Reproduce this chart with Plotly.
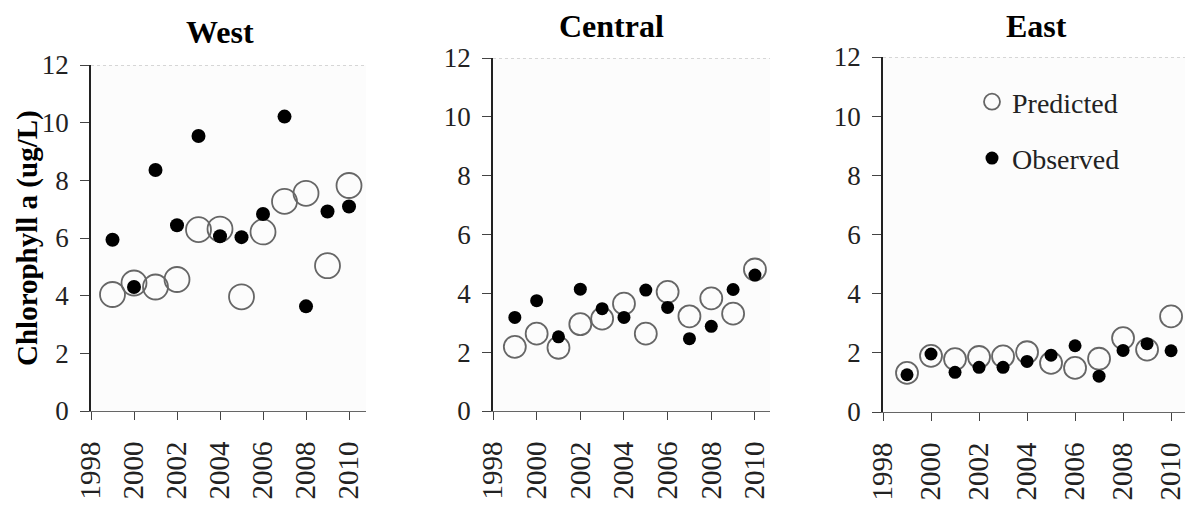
import plotly.graph_objects as go

years = list(range(1999, 2011))
regions = ["West", "Central", "East"]

west_pred = [4.04, 4.44, 4.30, 4.56, 6.29, 6.31, 3.96, 6.21, 7.27, 7.55, 5.04, 7.82]
west_obs = [5.94, 4.30, 8.36, 6.44, 9.54, 6.06, 6.03, 6.83, 10.21, 3.63, 6.92, 7.09]
central_pred = [2.18, 2.63, 2.15, 2.95, 3.14, 3.65, 2.63, 4.05, 3.22, 3.83, 3.31, 4.81]
central_obs = [3.18, 3.75, 2.52, 4.14, 3.48, 3.18, 4.11, 3.52, 2.46, 2.88, 4.13, 4.62]
east_pred = [1.32, 1.90, 1.79, 1.86, 1.88, 2.02, 1.66, 1.49, 1.80, 2.50, 2.11, 3.23]
east_obs = [1.26, 1.96, 1.34, 1.51, 1.51, 1.71, 1.92, 2.24, 1.21, 2.08, 2.31, 2.07]

x_ticks = [1998, 2000, 2002, 2004, 2006, 2008, 2010]
y_ticks = [0, 2, 4, 6, 8, 10, 12]

PAGE_W, PAGE_H = 1194, 506
OFF = 8  # default body margin of the html page
FW, FH = PAGE_W - OFF, PAGE_H - OFF
FONT = "Liberation Serif"


def px(xp):
    return (xp - OFF) / FW


def py(yp):
    return (PAGE_H - yp) / FH


# pixel geometry (page coords) of each panel: (left, right, top(y=12), bottom(y=0), x_end)
panels = [
    (91, 366, 65, 411, 2010.79),
    (493, 770, 58, 411, 2010.69),
    (883, 1185, 57, 412, 2010.58),
]
pred_sizes = [25, 22, 22]
obs_sizes = [14, 13, 13]
title_pos = [(220, 32), (612, 26), (1036, 26)]

data_pred = [west_pred, central_pred, east_pred]
data_obs = [west_obs, central_obs, east_obs]

fig = go.Figure()
shapes = []
annotations = []

for i, (l, r, t, b, xend) in enumerate(panels):
    xa = "x" if i == 0 else f"x{i+1}"
    ya = "y" if i == 0 else f"y{i+1}"
    show = (i == 2)
    fig.add_trace(go.Scatter(
        x=years, y=data_pred[i], mode="markers", name="Predicted",
        xaxis=xa, yaxis=ya, showlegend=show, legendgroup="pred",
        marker=dict(size=pred_sizes[i], symbol="circle-open", color="#666666",
                    line=dict(width=1.8, color="#666666")),
    ))
    fig.add_trace(go.Scatter(
        x=years, y=data_obs[i], mode="markers", name="Observed",
        xaxis=xa, yaxis=ya, showlegend=show, legendgroup="obs",
        marker=dict(size=obs_sizes[i], symbol="circle", color="#000000"),
    ))
    xkey = "xaxis" if i == 0 else f"xaxis{i+1}"
    ykey = "yaxis" if i == 0 else f"yaxis{i+1}"
    fig.update_layout(**{
        xkey: dict(
            domain=[px(l), px(r)], range=[1998, xend], anchor=ya, automargin=False,
            tickvals=x_ticks, ticktext=[str(v) for v in x_ticks], tickangle=-90,
            ticks="outside", ticklen=8, tickcolor="#444", tickwidth=1.2,
            showline=True, linecolor="#666", linewidth=1,
            showgrid=False, zeroline=False,
            tickfont=dict(family=FONT, size=29, color="#222"),
            ticklabelstandoff=10,
        ),
        ykey: dict(
            domain=[py(b), py(t)], range=[0, 12], anchor=xa, automargin=False,
            tickvals=y_ticks, ticks="outside", ticklen=9, tickcolor="#444", tickwidth=1.2,
            showline=True, linecolor="#222", linewidth=1.6,
            showgrid=False, zeroline=False,
            tickfont=dict(family=FONT, size=27, color="#222"),
            ticklabelstandoff=6,
        ),
    })
    shapes.append(dict(type="line", xref=f"{xa} domain", yref=ya, x0=0, x1=1, y0=12, y1=12,
                       line=dict(color="#b0b0b0", width=1, dash="dot")))
    tx, ty = title_pos[i]
    annotations.append(dict(text=f"<b>{regions[i]}</b>", x=px(tx), y=py(ty),
                            xref="paper", yref="paper", showarrow=False,
                            xanchor="center", yanchor="middle",
                            font=dict(family=FONT, size=32, color="#000")))

annotations.append(dict(text="<b>Chlorophyll a (ug/L)</b>", x=px(28), y=py(238),
                        xref="paper", yref="paper", showarrow=False, textangle=-90,
                        xanchor="center", yanchor="middle",
                        font=dict(family=FONT, size=29, color="#000")))

fig.update_layout(
    width=FW, height=FH, autosize=False,
    margin=dict(l=0, r=0, t=0, b=0, pad=0, autoexpand=False),
    paper_bgcolor="white", plot_bgcolor="#fcfcfc",
    shapes=shapes, annotations=annotations,
    legend=dict(x=px(972), y=py(77), xanchor="left", yanchor="top",
                bgcolor="rgba(0,0,0,0)", traceorder="grouped", tracegroupgap=17,
                font=dict(family=FONT, size=28, color="#222"),
                itemsizing="trace"),
    showlegend=True,
)

fig.write_html("out.html")
